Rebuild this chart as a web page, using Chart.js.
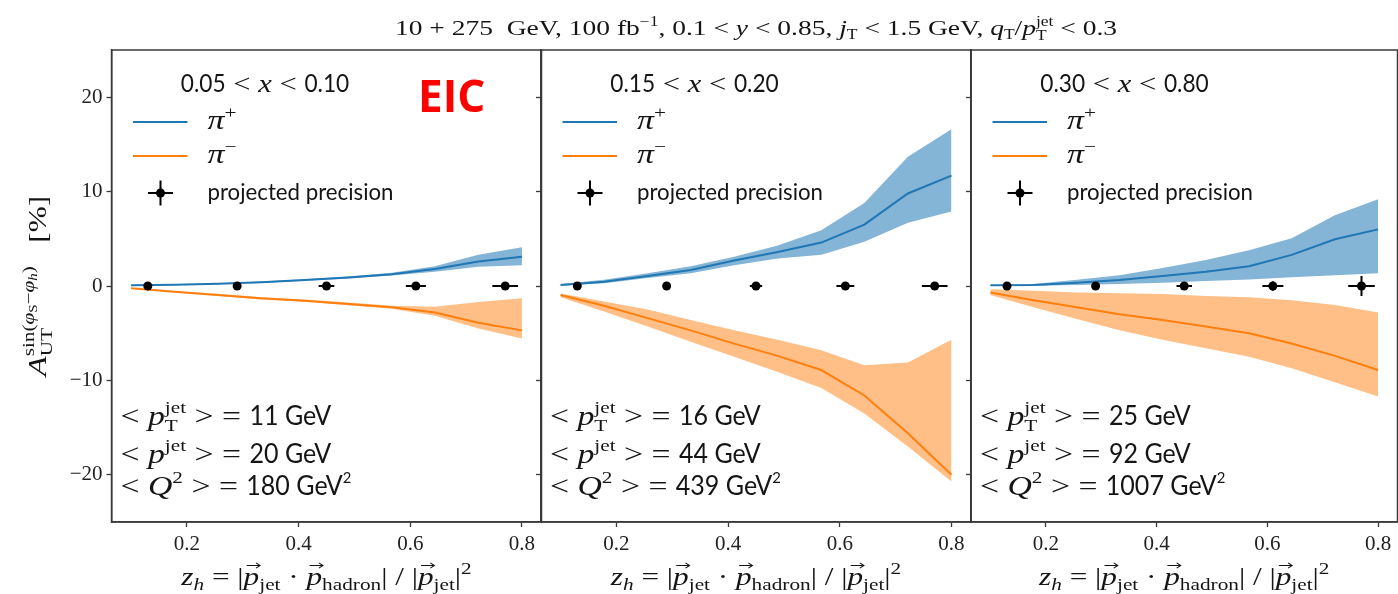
<!DOCTYPE html>
<html>
<head>
<meta charset="utf-8">
<script src="https://cdn.jsdelivr.net/npm/chart.js@4.4.1/dist/chart.umd.min.js"></script>
<style>
  html, body { margin: 0; padding: 0; background: #fff; overflow: hidden; }
  #wrap { position: relative; width: 1398px; height: 594px; overflow: hidden; background: #fff; }
  #wrap canvas { position: absolute; left: 0; top: 0; }
</style>
</head>
<body>
<div id="wrap">
  <canvas id="panel1" width="1402" height="594"></canvas>
  <canvas id="panel2" width="1402" height="594"></canvas>
  <canvas id="panel3" width="1402" height="594"></canvas>
</div>
<script>
// ---- data ---------------------------------------------------------------
const zGrid = [0.1, 0.178, 0.256, 0.333, 0.411, 0.489, 0.567, 0.644, 0.722, 0.8];
const zProj = [0.13, 0.29, 0.45, 0.61, 0.77];
const xTickValues = [0.2, 0.4, 0.6, 0.8];
const yTickValues = [-20, -10, 0, 10, 20];

// 0.05 < x < 0.10
const p1PiPlus    = [0.07, 0.14, 0.25, 0.40, 0.64, 0.90, 1.25, 1.80, 2.60, 3.10];
const p1PiPlusHi  = [0.10, 0.18, 0.30, 0.47, 0.72, 1.00, 1.40, 2.10, 3.30, 4.10];
const p1PiPlusLo  = [0.04, 0.10, 0.20, 0.33, 0.56, 0.80, 1.10, 1.50, 2.05, 2.20];
const p1PiMinus   = [-0.25, -0.60, -0.95, -1.30, -1.55, -1.90, -2.25, -2.80, -3.90, -4.70];
const p1PiMinusHi = [-0.20, -0.52, -0.85, -1.18, -1.42, -1.75, -2.10, -2.20, -1.70, -1.30];
const p1PiMinusLo = [-0.30, -0.68, -1.05, -1.42, -1.68, -2.05, -2.40, -3.15, -4.50, -5.55];
const p1ProjVal   = [0, 0, 0, 0, 0];
const p1ProjXErr  = [0.004, 0.006, 0.014, 0.018, 0.023];
const p1ProjYErr  = [0.10, 0.12, 0.15, 0.20, 0.25];

// 0.15 < x < 0.20
const p2PiPlus    = [0.10, 0.46, 1.05, 1.70, 2.70, 3.60, 4.60, 6.50, 9.80, 11.70];
const p2PiPlusHi  = [0.20, 0.65, 1.35, 2.10, 3.10, 4.30, 5.90, 8.80, 13.70, 16.60];
const p2PiPlusLo  = [0.02, 0.30, 0.85, 1.35, 2.20, 2.90, 3.30, 4.70, 6.70, 7.90];
const p2PiMinus   = [-0.95, -2.10, -3.40, -4.70, -6.10, -7.40, -8.90, -11.60, -15.60, -20.00];
const p2PiMinusHi = [-0.80, -1.65, -2.50, -3.60, -4.70, -5.70, -6.80, -8.40, -8.10, -5.70];
const p2PiMinusLo = [-1.20, -2.70, -4.30, -5.90, -7.50, -9.10, -10.80, -13.50, -17.00, -20.70];
const p2ProjVal   = [0, 0, 0, 0, 0];
const p2ProjXErr  = [0.004, 0.006, 0.011, 0.016, 0.023];
const p2ProjYErr  = [0.10, 0.12, 0.18, 0.25, 0.35];

// 0.30 < x < 0.80
const p3PiPlus    = [0.07, 0.10, 0.35, 0.64, 1.06, 1.50, 2.10, 3.30, 4.95, 6.00];
const p3PiPlusHi  = [0.10, 0.20, 0.65, 1.15, 1.90, 2.75, 3.80, 5.05, 7.50, 9.20];
const p3PiPlusLo  = [0.00, 0.03, 0.10, 0.20, 0.35, 0.53, 0.70, 0.92, 1.13, 1.35];
const p3PiMinus   = [-0.70, -1.50, -2.25, -3.00, -3.60, -4.30, -5.00, -6.10, -7.40, -8.90];
const p3PiMinusHi = [-0.35, -0.50, -0.70, -0.78, -0.85, -1.06, -1.20, -1.50, -2.00, -2.80];
const p3PiMinusLo = [-0.95, -2.25, -3.50, -4.70, -5.70, -6.60, -7.50, -8.70, -10.20, -11.70];
const p3ProjVal   = [0, 0, 0, 0, 0];
const p3ProjXErr  = [0.004, 0.006, 0.014, 0.019, 0.024];
const p3ProjYErr  = [0.10, 0.15, 0.30, 0.50, 1.06];

// panel annotations: x-range bounds, <pT jet>, <p jet>, <Q^2>
const p1Range = ['0.05', '0.10']; const p1Means = ['11', '20', '180'];
const p2Range = ['0.15', '0.20']; const p2Means = ['16', '44', '439'];
const p3Range = ['0.30', '0.80']; const p3Means = ['25', '92', '1007'];

// ---- styling --------------------------------------------------------------
const BLUE = '#1f77b4', ORANGE = '#ff7f0e';
const BLUE_FILL = 'rgba(31,119,180,0.55)', ORANGE_FILL = 'rgba(255,127,14,0.5)';
const AXIS = '#3a3a3a', INK = '#151515';
const SERIF = '"Liberation Serif", "DejaVu Serif", serif';
const SANS = 'Lato, "Open Sans", "Noto Sans", sans-serif';
let SANS_SX = 1, SERIF_SX = 1;

function fontStr(q) {
  return (q.it ? 'italic ' : '') + (q.b ? 'bold ' : '') + q.size + 'px ' + (q.fam === 'sans' ? SANS : SERIF);
}
// lays out a run of text pieces (supports stacked sub/superscripts via mark/reset/end)
function layoutRich(ctx, parts, size) {
  let cx = 0, markX = 0, maxX = 0;
  const items = [];
  for (const p of parts) {
    if (p.mark) { markX = cx; maxX = cx; continue; }
    if (p.reset) { maxX = Math.max(maxX, cx); cx = markX; continue; }
    if (p.end) { cx = Math.max(maxX, cx); continue; }
    const q = Object.assign({ fam: 'serif', size: size, dy: 0, kern: 0 }, p);
    ctx.font = fontStr(q);
    const sx = q.fam === 'sans' ? SANS_SX : SERIF_SX;
    const w = ctx.measureText(q.t).width * sx;
    items.push({ q, x: cx, w, sx });
    cx += w + q.kern;
  }
  return { items, width: cx };
}
function drawRich(ctx, parts, x, y, align, size, color) {
  const L = layoutRich(ctx, parts, size);
  const x0 = align === 'center' ? x - L.width / 2 : (align === 'right' ? x - L.width : x);
  ctx.save();
  ctx.fillStyle = color || INK;
  ctx.strokeStyle = color || INK;
  ctx.textBaseline = 'alphabetic';
  ctx.textAlign = 'left';
  for (const it of L.items) {
    ctx.font = fontStr(it.q);
    ctx.save();
    ctx.translate(x0 + it.x, y + it.q.dy);
    ctx.scale(it.sx, 1);
    ctx.fillText(it.q.t, 0, 0);
    ctx.restore();
    if (it.q.vec) {
      const ay = y + it.q.dy - it.q.size * 0.78;
      const ax0 = x0 + it.x + it.w * 0.2, ax1 = x0 + it.x + it.w * 1.05;
      ctx.lineWidth = 1.1;
      ctx.beginPath();
      ctx.moveTo(ax0, ay); ctx.lineTo(ax1, ay);
      ctx.moveTo(ax1 - 4, ay - 2.6); ctx.lineTo(ax1, ay); ctx.lineTo(ax1 - 4, ay + 2.6);
      ctx.stroke();
    }
  }
  ctx.restore();
  return L.width;
}

// pieces of the shared texts
const titleParts = [
  { t: '10 + 275  GeV, 100 fb' }, { t: '−1', size: 14, dy: -9 },
  { t: ', 0.1 < ' }, { t: 'y', it: true }, { t: ' < 0.85, ' },
  { t: 'j', it: true }, { t: 'T', size: 14, dy: 4 }, { t: ' < 1.5 GeV, ' },
  { t: 'q', it: true }, { t: 'T', size: 14, dy: 4 }, { t: '/' },
  { t: 'p', it: true }, { mark: true }, { t: 'T', size: 14, dy: 5 }, { reset: true },
  { t: 'jet', size: 14, dy: -9 }, { end: true }, { t: ' < 0.3' }
];
const xLabelParts = [
  { t: 'z', it: true }, { t: 'h', it: true, size: 17, dy: 5 }, { t: ' = |' },
  { t: 'p', it: true, vec: true }, { t: 'jet', size: 17, dy: 5 }, { t: ' · ' },
  { t: 'p', it: true, vec: true }, { t: 'hadron', size: 17, dy: 5 }, { t: '| / |' },
  { t: 'p', it: true, vec: true }, { t: 'jet', size: 17, dy: 5 }, { t: '|' },
  { t: '2', size: 17, dy: -11 }
];
const yLabelParts = [
  { t: 'A', it: true, size: 26 }, { mark: true }, { t: 'UT', size: 17, dy: 6 }, { reset: true },
  { t: 'sin(', size: 17, dy: -12 }, { t: 'φ', it: true, size: 17, dy: -12 },
  { t: 'S', size: 12, dy: -9 }, { t: '−', size: 17, dy: -12 },
  { t: 'φ', it: true, size: 17, dy: -12 }, { t: 'h', it: true, size: 12, dy: -9 },
  { t: ')', size: 17, dy: -12 }, { end: true }, { t: '   [%]' }
];

function calibrate() {
  const c = document.createElement('canvas').getContext('2d');
  c.font = '24px ' + SANS;
  SANS_SX = Math.max(0.7, Math.min(1, 186 / c.measureText('projected precision').width));
  const w = layoutRich(c, titleParts, 22).width;
  SERIF_SX = Math.max(0.85, Math.min(1.25, 737 / w));
}
calibrate();

const pts = (xs, ys) => xs.map((x, i) => ({ x, y: ys[i] }));

// ---- per-panel decorations: frame, error bars, legend, annotations ------
function panelDecor(info) {
  return {
    id: 'panelDecor' + info.idx,
    afterDatasetsDraw(chart) {
      const ctx = chart.ctx, xs = chart.scales.x, ys = chart.scales.y;
      // error bars for the projected precision points
      ctx.save();
      ctx.strokeStyle = '#000'; ctx.lineWidth = 2;
      zProj.forEach((z, i) => {
        const px = xs.getPixelForValue(z), py = ys.getPixelForValue(info.proj[i]);
        const xl = xs.getPixelForValue(z - info.xErr[i]), xr = xs.getPixelForValue(z + info.xErr[i]);
        const yt = ys.getPixelForValue(info.proj[i] + info.yErr[i]), yb = ys.getPixelForValue(info.proj[i] - info.yErr[i]);
        ctx.beginPath();
        ctx.moveTo(xl, py); ctx.lineTo(xr, py);
        ctx.moveTo(px, yt); ctx.lineTo(px, yb);
        ctx.stroke();
      });
      ctx.restore();
    },
    afterDraw(chart) {
      const ctx = chart.ctx, a = chart.chartArea;
      const L = a.left;
      // frame
      ctx.save();
      ctx.strokeStyle = AXIS; ctx.lineWidth = 1.5;
      ctx.strokeRect(a.left, a.top, a.right - a.left, a.bottom - a.top);
      ctx.restore();

      // x-range heading
      drawRich(ctx, [
        { t: info.range[0], fam: 'sans' }, { t: ' < ' }, { t: 'x', it: true },
        { t: ' < ' }, { t: info.range[1], fam: 'sans' }
      ], L + 153.5, 92, 'center', 24.5);

      // legend
      ctx.save();
      ctx.lineWidth = 2;
      ctx.strokeStyle = BLUE;
      ctx.beginPath(); ctx.moveTo(L + 21.5, 122); ctx.lineTo(L + 76, 122); ctx.stroke();
      ctx.strokeStyle = ORANGE;
      ctx.beginPath(); ctx.moveTo(L + 21.5, 156); ctx.lineTo(L + 76, 156); ctx.stroke();
      ctx.strokeStyle = '#000';
      ctx.beginPath();
      ctx.moveTo(L + 36.5, 193); ctx.lineTo(L + 61.5, 193);
      ctx.moveTo(L + 49, 180.5); ctx.lineTo(L + 49, 205.5);
      ctx.stroke();
      ctx.fillStyle = '#000';
      ctx.beginPath(); ctx.arc(L + 49, 193, 4.5, 0, Math.PI * 2); ctx.fill();
      ctx.restore();
      drawRich(ctx, [{ t: 'π', it: true }, { t: '+', size: 17, dy: -11 }], L + 96, 129, 'left', 27);
      drawRich(ctx, [{ t: 'π', it: true }, { t: '−', size: 17, dy: -11 }], L + 96, 163, 'left', 27);
      drawRich(ctx, [{ t: 'projected precision', fam: 'sans' }], L + 96, 200, 'left', 24);

      // kinematic means
      drawRich(ctx, [
        { t: '< ' }, { t: 'p', it: true }, { mark: true }, { t: 'T', size: 17, dy: 6 }, { reset: true },
        { t: 'jet', size: 17, dy: -12 }, { end: true }, { t: ' > = ' },
        { t: info.means[0] + ' GeV', fam: 'sans', size: 27 }
      ], L + 9, 425, 'left', 27);
      drawRich(ctx, [
        { t: '< ' }, { t: 'p', it: true }, { t: 'jet', size: 17, dy: -12 }, { t: ' > = ' },
        { t: info.means[1] + ' GeV', fam: 'sans', size: 27 }
      ], L + 9, 463, 'left', 27);
      drawRich(ctx, [
        { t: '< ' }, { t: 'Q', it: true }, { t: '2', size: 17, dy: -12 }, { t: ' > = ' },
        { t: info.means[2] + ' GeV', fam: 'sans', size: 27 }, { t: '2', fam: 'sans', size: 16, dy: -12 }
      ], L + 9, 495, 'left', 27);

      // x-axis label
      drawRich(ctx, xLabelParts, (a.left + a.right) / 2, 585, 'center', 25);

      if (info.idx === 1) {
        // figure heading, y-axis label and experiment tag
        drawRich(ctx, titleParts, 756, 35, 'center', 22);
        ctx.save();
        ctx.translate(46, 286);
        ctx.rotate(-Math.PI / 2);
        drawRich(ctx, yLabelParts, 0, 0, 'center', 25);
        ctx.restore();
        ctx.save();
        ctx.fillStyle = '#ff0000';
        ctx.font = 'bold 44px "Open Sans", "DejaVu Sans", sans-serif';
        ctx.textBaseline = 'alphabetic';
        ctx.fillText('EIC', 418, 112);
        ctx.restore();
      }
    }
  };
}

function makePanel(canvasId, info) {
  const axisCommon = {
    type: 'linear',
    grid: { drawOnChartArea: false, drawTicks: true, tickLength: 5, tickWidth: 1.3, tickColor: AXIS, color: AXIS },
    border: { display: true, color: AXIS, width: 1.5 }
  };
  return new Chart(document.getElementById(canvasId), {
    type: 'line',
    data: {
      datasets: [
        { label: 'π+ band', data: pts(zGrid, info.pipHi), fill: '+1', backgroundColor: BLUE_FILL, borderWidth: 0, pointRadius: 0, order: 3 },
        { label: 'π+ band low', data: pts(zGrid, info.pipLo), fill: false, borderWidth: 0, pointRadius: 0, order: 3 },
        { label: 'π− band', data: pts(zGrid, info.pimHi), fill: '+1', backgroundColor: ORANGE_FILL, borderWidth: 0, pointRadius: 0, order: 2 },
        { label: 'π− band low', data: pts(zGrid, info.pimLo), fill: false, borderWidth: 0, pointRadius: 0, order: 2 },
        { label: 'π+', data: pts(zGrid, info.pip), borderColor: BLUE, borderWidth: 2, pointRadius: 0, fill: false, tension: 0, order: 1 },
        { label: 'π−', data: pts(zGrid, info.pim), borderColor: ORANGE, borderWidth: 2, pointRadius: 0, fill: false, tension: 0, order: 1 },
        { label: 'projected precision', type: 'scatter', data: pts(zProj, info.proj), pointRadius: 4.5,
          pointBackgroundColor: '#000', pointBorderWidth: 0, showLine: false, order: 0 }
      ]
    },
    options: {
      responsive: false,
      animation: false,
      devicePixelRatio: 1,
      events: [],
      layout: { padding: { left: info.padL, right: info.padR, top: 50, bottom: 0 } },
      plugins: { legend: { display: false }, tooltip: { enabled: false } },
      scales: {
        x: Object.assign({}, axisCommon, {
          min: 0.065, max: 0.835,
          afterBuildTicks: s => { s.ticks = xTickValues.map(v => ({ value: v })); },
          afterFit: s => { s.height = 72; },
          ticks: { display: true, padding: 5, color: '#222', maxRotation: 0,
            font: { family: SERIF, size: 21 }, callback: v => v.toFixed(1) }
        }),
        y: Object.assign({}, axisCommon, {
          min: -25, max: 25,
          afterBuildTicks: s => { s.ticks = yTickValues.map(v => ({ value: v })); },
          afterFit: s => { s.width = info.yW; },
          ticks: { display: info.idx === 1, padding: 4, color: '#222',
            font: { family: SERIF, size: 21 }, callback: v => (v < 0 ? '−' + Math.abs(v) : String(v)) }
        })
      }
    },
    plugins: [panelDecor(info)]
  });
}

makePanel('panel1', { idx: 1, padL: 0, yW: 111.5, padR: 1402 - 541.5,
  pip: p1PiPlus, pipHi: p1PiPlusHi, pipLo: p1PiPlusLo, pim: p1PiMinus, pimHi: p1PiMinusHi, pimLo: p1PiMinusLo,
  proj: p1ProjVal, xErr: p1ProjXErr, yErr: p1ProjYErr, range: p1Range, means: p1Means });
makePanel('panel2', { idx: 2, padL: 535, yW: 6, padR: 1402 - 971,
  pip: p2PiPlus, pipHi: p2PiPlusHi, pipLo: p2PiPlusLo, pim: p2PiMinus, pimHi: p2PiMinusHi, pimLo: p2PiMinusLo,
  proj: p2ProjVal, xErr: p2ProjXErr, yErr: p2ProjYErr, range: p2Range, means: p2Means });
makePanel('panel3', { idx: 3, padL: 965, yW: 6, padR: 1.5,
  pip: p3PiPlus, pipHi: p3PiPlusHi, pipLo: p3PiPlusLo, pim: p3PiMinus, pimHi: p3PiMinusHi, pimLo: p3PiMinusLo,
  proj: p3ProjVal, xErr: p3ProjXErr, yErr: p3ProjYErr, range: p3Range, means: p3Means });
</script>
</body>
</html>
